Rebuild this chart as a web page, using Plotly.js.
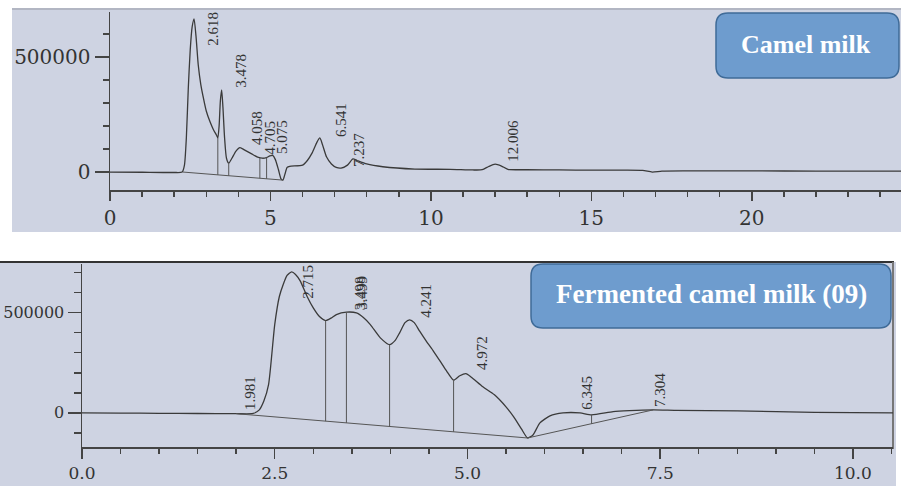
<!DOCTYPE html>
<html>
<head>
<meta charset="utf-8">
<script src="https://cdn.plot.ly/plotly-3.0.1.min.js"></script>
<style>html,body{margin:0;padding:0;background:#fff;}#chart{width:901px;height:486px;}</style>
</head>
<body>
<div id="chart"></div>
<script>
// ---------- Camel milk (top) ----------
const topTime = [0, 1, 2, 2.25, 2.32, 2.38, 2.44, 2.5, 2.56, 2.62, 2.68, 2.75, 2.83, 2.91, 3.0, 3.12, 3.22, 3.32, 3.36, 3.4, 3.44, 3.48, 3.52, 3.57, 3.63, 3.7, 3.8, 3.92, 4.05, 4.2, 4.4, 4.6, 4.75, 4.88, 4.98, 5.07, 5.15, 5.25, 5.33, 5.39, 5.45, 5.52, 5.6, 6.0, 6.15, 6.3, 6.45, 6.54, 6.62, 6.75, 6.9, 7.05, 7.2, 7.4, 7.57, 7.7, 8.0, 8.5, 9.5, 10.6, 11.3, 11.6, 11.8, 12.0, 12.2, 12.4, 13, 14, 15, 16, 16.6, 16.9, 17.2, 18, 20, 22, 24.65];
const topSignal = [0, -1000, -2000, 0, 30000, 150000, 365000, 530000, 630000, 665000, 590000, 465000, 380000, 322000, 265000, 217000, 185000, 160000, 148000, 200000, 310000, 357000, 280000, 150000, 60000, 39000, 60000, 90000, 106000, 95000, 80000, 65000, 60000, 63000, 70000, 72000, 55000, 10000, -30000, -35000, -10000, 20000, 25000, 30000, 50000, 83000, 130000, 148000, 120000, 65000, 35000, 20000, 17000, 30000, 57000, 50000, 35000, 23000, 13000, 12000, 9000, 10000, 24000, 34000, 26000, 12000, 10000, 9000, 8000, 8000, 7000, 0, 4000, 5000, 5000, 4000, 4000];
const topBaseTime = [2.27, 5.39];
const topBaseValue = [0, -35000];
const topDropTime = [3.36, 3.70, 4.67, 4.88];
const topDropHigh = [148000, 39000, 61000, 63000];
const topDropLow = [-12200, -16000, -26900, -29300];
const topPeakLabels = ['2.618', '3.478', '4.058', '4.705', '5.075', '6.541', '7.237', '12.006'];
const topLabelTime = [3.21, 4.08, 4.58, 4.98, 5.36, 7.20, 7.76, 12.55];
const topLabelValue = [621800, 439000, 191000, 148000, 152000, 226000, 95700, 134800];
const topXTicks = [0, 5, 10, 15, 20];
const topYTicks = [0, 500000];
const topTitle = 'Camel milk';

// ---------- Fermented camel milk (bottom) ----------
const botTime = [0, 0.5, 1.0, 1.5, 2.0, 2.22, 2.3, 2.36, 2.42, 2.5, 2.56, 2.61, 2.66, 2.72, 2.77, 2.83, 2.92, 3.0, 3.08, 3.16, 3.23, 3.3, 3.43, 3.56, 3.65, 3.74, 3.87, 3.99, 4.06, 4.12, 4.19, 4.25, 4.31, 4.38, 4.47, 4.56, 4.65, 4.73, 4.82, 4.9, 4.98, 5.05, 5.2, 5.35, 5.5, 5.6, 5.7, 5.78, 5.85, 5.94, 6.07, 6.24, 6.46, 6.61, 6.89, 7.1, 7.41, 7.7, 8.5, 9.5, 10.52];
const botSignal = [0, -1000, -2000, -3000, -4000, -3000, 15000, 60000, 141000, 440000, 580000, 640000, 685000, 703000, 690000, 658000, 580000, 523000, 480000, 460000, 472000, 490000, 502000, 498000, 475000, 440000, 374000, 340000, 360000, 399000, 450000, 464000, 450000, 407000, 355000, 307000, 255000, 208000, 163000, 185000, 196000, 178000, 130000, 90000, 30000, -20000, -80000, -125000, -110000, -50000, -15000, 0, 0, -10000, 6000, 11000, 15000, 13000, 10000, 3000, 0];
const botBaseTime = [2.0, 5.78, 7.41];
const botBaseValue = [-4000, -125000, 15000];
const botDropTime = [3.16, 3.43, 3.99, 4.82, 6.61];
const botDropHigh = [460000, 502000, 340000, 163000, -10000];
const botDropLow = [-41100, -49800, -67700, -94300, -54100];
const botPeakLabels = ['1.981', '2.715', '3.498', '3.499', '4.241', '4.972', '6.345', '7.304'];
const botLabelTime = [2.18, 2.93, 3.61, 3.63, 4.46, 5.19, 6.55, 7.50];
const botLabelValue = [99700, 653000, 598000, 598000, 558000, 299000, 99700, 114700];
const botXTicks = [0, 2.5, 5, 7.5, 10];
const botYTicks = [0, 500000];
const botTitle = 'Fermented camel milk (09)';

// ---------- helpers ----------
const W = 901, H = 486;
const px = v => v / W;
const py = v => 1 - v / H;
const LINE = '#3a3a3a';
function segs(xs, hi, lo) {
  const x = [], y = [];
  xs.forEach((t, i) => { x.push(t, t, null); y.push(hi[i], lo[i], null); });
  return {x, y};
}
function roundRect(x0, y0, x1, y1, r) {
  const P = (a, b) => px(a).toFixed(5) + ',' + py(b).toFixed(5);
  return 'M' + P(x0 + r, y0) + ' L' + P(x1 - r, y0) + ' Q' + P(x1, y0) + ' ' + P(x1, y0 + r) +
    ' L' + P(x1, y1 - r) + ' Q' + P(x1, y1) + ' ' + P(x1 - r, y1) +
    ' L' + P(x0 + r, y1) + ' Q' + P(x0, y1) + ' ' + P(x0, y1 - r) +
    ' L' + P(x0, y0 + r) + ' Q' + P(x0, y0) + ' ' + P(x0 + r, y0) + ' Z';
}

const topDrops = segs(topDropTime, topDropHigh, topDropLow);
const botDrops = segs(botDropTime, botDropHigh, botDropLow);
const sig = {color: LINE, width: 1.3, shape: 'spline', smoothing: 0.6};
const thin = {color: '#555', width: 1};

const data = [
  {x: topTime, y: topSignal, xaxis: 'x', yaxis: 'y', mode: 'lines', line: sig, hoverinfo: 'skip'},
  {x: topBaseTime, y: topBaseValue, xaxis: 'x', yaxis: 'y', mode: 'lines', line: thin, hoverinfo: 'skip'},
  {x: topDrops.x, y: topDrops.y, xaxis: 'x', yaxis: 'y', mode: 'lines', line: thin, connectgaps: false, hoverinfo: 'skip'},
  {x: botTime, y: botSignal, xaxis: 'x2', yaxis: 'y2', mode: 'lines', line: sig, hoverinfo: 'skip'},
  {x: botBaseTime, y: botBaseValue, xaxis: 'x2', yaxis: 'y2', mode: 'lines', line: thin, hoverinfo: 'skip'},
  {x: botDrops.x, y: botDrops.y, xaxis: 'x2', yaxis: 'y2', mode: 'lines', line: thin, connectgaps: false, hoverinfo: 'skip'}
];

const lblFont = {family: 'Liberation Serif', size: 15, color: '#333'};
const annotations = [];
topPeakLabels.forEach((t, i) => annotations.push({
  text: t, x: topLabelTime[i], y: topLabelValue[i], xref: 'x', yref: 'y',
  xanchor: 'center', yanchor: 'middle', showarrow: false, textangle: -90, font: lblFont
}));
botPeakLabels.forEach((t, i) => annotations.push({
  text: t, x: botLabelTime[i], y: botLabelValue[i], xref: 'x2', yref: 'y2',
  xanchor: 'center', yanchor: 'middle', showarrow: false, textangle: -90, font: lblFont
}));
annotations.push({text: '<b>' + topTitle + '</b>', xref: 'paper', yref: 'paper', x: px(806), y: py(44),
  xanchor: 'center', yanchor: 'middle', showarrow: false, font: {family: 'Liberation Serif', size: 26, color: '#fff'}});
annotations.push({text: '<b>' + botTitle + '</b>', xref: 'paper', yref: 'paper', x: px(711), y: py(294),
  xanchor: 'center', yanchor: 'middle', showarrow: false, font: {family: 'Liberation Serif', size: 27, color: '#fff'}});

const shapes = [
  {type: 'rect', xref: 'paper', yref: 'paper', x0: px(12), x1: px(901), y0: py(232), y1: py(8), fillcolor: '#ced3e2', line: {width: 0}, layer: 'below'},
  {type: 'line', xref: 'paper', yref: 'paper', x0: px(12), x1: px(901), y0: py(9), y1: py(9), line: {color: '#a9adb8', width: 1.5}, layer: 'below'},
  {type: 'rect', xref: 'paper', yref: 'paper', x0: px(0), x1: px(896), y0: py(486), y1: py(262), fillcolor: '#ced3e2', line: {width: 0}, layer: 'below'},
  {type: 'line', xref: 'paper', yref: 'paper', x0: px(0), x1: px(894), y0: py(262), y1: py(262), line: {color: '#333', width: 2}, layer: 'below'},
  {type: 'line', xref: 'paper', yref: 'paper', x0: px(893), x1: px(893), y0: py(262), y1: py(449), line: {color: '#777', width: 2}, layer: 'below'},
  {type: 'path', xref: 'paper', yref: 'paper', path: roundRect(716, 13, 899, 78, 12), fillcolor: '#6e9cce', line: {color: '#3f6b98', width: 1.5}},
  {type: 'path', xref: 'paper', yref: 'paper', path: roundRect(531, 264, 891, 328, 12), fillcolor: '#6e9cce', line: {color: '#3f6b98', width: 1.5}}
];

const axFont = {family: 'DejaVu Serif', size: 20, color: '#333'};
const botFont = {family: 'DejaVu Serif', size: 16, color: '#333'};
const layout = {
  width: W, height: H, margin: {l: 0, r: 0, t: 0, b: 0},
  paper_bgcolor: '#ffffff', plot_bgcolor: 'rgba(0,0,0,0)', showlegend: false,
  xaxis: {domain: [px(110), 1], anchor: 'y', range: [0, 24.65], tickvals: topXTicks, ticktext: topXTicks.map(String),
    showgrid: false, zeroline: false, showline: true, linecolor: '#444', linewidth: 1.5,
    ticks: 'outside', ticklen: 9, tickwidth: 1.5, tickcolor: '#444', tickfont: axFont,
    minor: {dtick: 1, tick0: 0, ticks: 'outside', ticklen: 5, tickwidth: 1.5, tickcolor: '#444', showgrid: false}},
  yaxis: {domain: [py(190), py(12)], anchor: 'x', range: [-78000, 695000], tickvals: topYTicks, ticktext: topYTicks.map(String),
    showgrid: false, zeroline: false, showline: true, linecolor: '#444', linewidth: 1.5,
    ticks: 'outside', ticklen: 14, tickwidth: 1.5, tickcolor: '#444', tickfont: axFont,
    minor: {dtick: 100000, tick0: 0, ticks: 'outside', ticklen: 6, tickwidth: 1.5, tickcolor: '#444', showgrid: false}},
  xaxis2: {domain: [px(82), px(893)], anchor: 'y2', range: [0, 10.52], tickvals: botXTicks, ticktext: botXTicks.map(v => v.toFixed(1)),
    showgrid: false, zeroline: false, showline: true, linecolor: '#444', linewidth: 1.5,
    ticks: 'outside', ticklen: 10, tickwidth: 1.5, tickcolor: '#444', tickfont: {family: 'DejaVu Serif', size: 17, color: '#333'},
    minor: {dtick: 0.5, tick0: 0, ticks: 'outside', ticklen: 5, tickwidth: 1.5, tickcolor: '#444', showgrid: false}},
  yaxis2: {domain: [py(447), py(264)], anchor: 'x2', range: [-170000, 742000], tickvals: botYTicks, ticktext: botYTicks.map(String),
    showgrid: false, zeroline: false, showline: true, linecolor: '#444', linewidth: 1.5,
    ticks: 'outside', ticklen: 13, tickwidth: 1.5, tickcolor: '#444', tickfont: botFont,
    minor: {dtick: 100000, tick0: 0, ticks: 'outside', ticklen: 7, tickwidth: 1.5, tickcolor: '#444', showgrid: false}},
  shapes: shapes,
  annotations: annotations
};

Plotly.newPlot('chart', data, layout, {staticPlot: true, displayModeBar: false});
</script>
</body>
</html>
